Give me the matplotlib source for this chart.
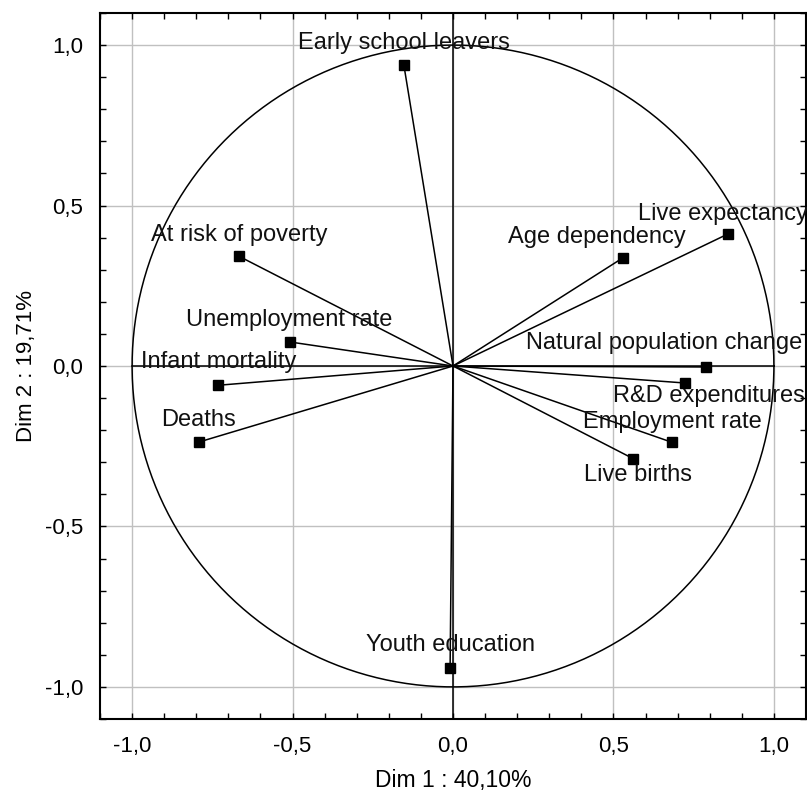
import numpy as np
import matplotlib
matplotlib.use("Agg")
import matplotlib.pyplot as plt
from matplotlib.ticker import MultipleLocator, FuncFormatter

plt.rcParams['font.family'] = ['Liberation Sans', 'DejaVu Sans']

# variables y coordenadas (correlaciones) en Dim 1 / Dim 2
variables = ["Early school leavers", "At risk of poverty", "Unemployment rate",
             "Infant mortality", "Deaths", "Live expectancy", "Age dependency",
             "Natural population change", "R&D expenditures", "Employment rate",
             "Live births", "Youth education"]
dim1 = [-0.153, -0.667, -0.509, -0.731, -0.792, 0.858, 0.531,
        0.788, 0.723, 0.683, 0.562, -0.009]
dim2 = [0.937, 0.342, 0.075, -0.060, -0.237, 0.412, 0.338,
        -0.003, -0.053, -0.238, -0.289, -0.940]

# desplazamiento de las etiquetas (puntos)
offsets = [(0, 16), (0, 15), (0, 16), (0, 16.5), (0, 16), (-4, 14.5), (-19, 14.5),
           (-30, 17), (17, -9), (0, 14.5), (3.5, -12), (0, 16)]

fig = plt.figure(figsize=(8.07, 7.93), dpi=100)
ax = fig.add_axes([100/807, 74/793, 706/807, 706/793])

ax.set_xlim(-1.1, 1.1)
ax.set_ylim(-1.1, 1.1)

ax.grid(True, color="#c0c0c0", linewidth=1.0)
ax.set_axisbelow(True)

# circulo de correlacion
t = np.linspace(0, 2*np.pi, 400)
ax.plot(np.cos(t), np.sin(t), color="black", linewidth=1.1)

# ejes
ax.plot([-1, 1], [0, 0], color="black", linewidth=1.1)
ax.axvline(0, color="black", linewidth=1.1)

for i, nombre in enumerate(variables):
    ax.plot([0, dim1[i]], [0, dim2[i]], color="black", linewidth=1.1)
    ax.plot(dim1[i], dim2[i], marker="s", color="black", markersize=7)
    ax.annotate(nombre, (dim1[i], dim2[i]), xytext=offsets[i],
                textcoords="offset points", ha="center", va="center",
                fontsize=17, color="#111111", annotation_clip=False)

ax.xaxis.set_major_locator(MultipleLocator(0.5))
ax.yaxis.set_major_locator(MultipleLocator(0.5))
ax.xaxis.set_minor_locator(MultipleLocator(0.1))
ax.yaxis.set_minor_locator(MultipleLocator(0.1))
fmt = FuncFormatter(lambda v, p: ("%.1f" % v).replace(".", ",").replace("-0,0", "0,0"))
ax.xaxis.set_major_formatter(fmt)
ax.yaxis.set_major_formatter(fmt)
ax.tick_params(which="both", direction="in", top=True, right=True, length=4, width=1)
ax.tick_params(axis="x", which="major", labelsize=16, pad=12)
ax.tick_params(axis="y", which="major", labelsize=16, pad=12)

for s in ax.spines.values():
    s.set_linewidth(1.5)

ax.set_xlabel("Dim 1 : 40,10%", fontsize=16.5, labelpad=9)
ax.set_ylabel("Dim 2 : 19,71%", fontsize=16, labelpad=6)

fig.savefig("out.png", dpi=100)
